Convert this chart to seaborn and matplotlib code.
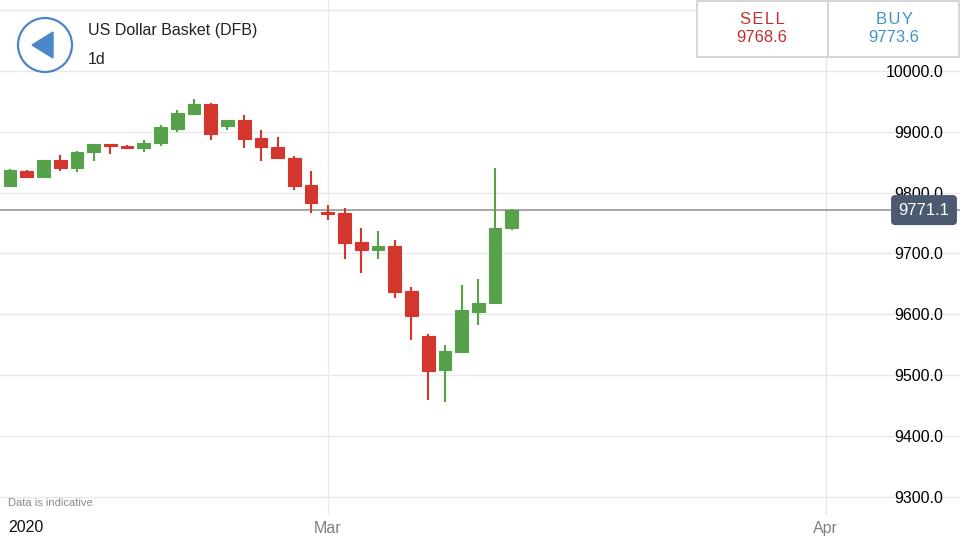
import matplotlib
matplotlib.use("Agg")
import matplotlib.pyplot as plt
import matplotlib.patches as mpatches
import matplotlib.transforms as mtransforms
import seaborn as sns
import numpy as np
import pandas as pd

# ── data (daily candles, US Dollar Basket) ───────────────────────
opens = [9811, 9835, 9826, 9853, 9841, 9866, 9880, 9877, 9874, 9881, 9905,
         9929, 9945, 9909, 9919, 9889, 9875, 9856, 9812, 9768, 9767, 9718,
         9706, 9712, 9638, 9564, 9508, 9538, 9604, 9618, 9741]
highs = [9838, 9837, 9854, 9861, 9868, 9879, 9880, 9878, 9886, 9911, 9935,
         9953, 9947, 9920, 9928, 9902, 9891, 9860, 9836, 9780, 9775, 9742,
         9737, 9722, 9644, 9567, 9549, 9648, 9657, 9840, 9773]
lows = [9809, 9824, 9825, 9835, 9834, 9851, 9863, 9872, 9867, 9877, 9900,
        9929, 9886, 9902, 9874, 9852, 9855, 9804, 9767, 9755, 9690, 9667,
        9691, 9627, 9557, 9459, 9456, 9537, 9582, 9618, 9738]
closes = [9837, 9825, 9853, 9841, 9867, 9879, 9877, 9874, 9882, 9907, 9930,
          9945, 9896, 9919, 9888, 9875, 9856, 9811, 9782, 9765, 9717, 9706,
          9712, 9637, 9597, 9507, 9539, 9606, 9619, 9742, 9771]

last_price = 9771.1
sell_price = "9768.6"
buy_price = "9773.6"
y_ticks = [9300, 9400, 9500, 9600, 9700, 9800, 9900, 10000, 10100]
month_pos = [19.0, 48.77]
month_labels = ["Mar", "Apr"]

GREEN = "#58a14b"
RED = "#d3362d"
SELL_RED = "#c0302e"
BUY_BLUE = "#3f94c6"

df = pd.DataFrame({"open": opens, "high": highs, "low": lows, "close": closes})
df["idx"] = np.arange(len(df))
df["up"] = df["close"] >= df["open"]
df["color"] = np.where(df["up"], GREEN, RED)
df["body_lo"] = df[["open", "close"]].min(axis=1)
df["body_h"] = (df["close"] - df["open"]).abs().clip(lower=2.5)

sns.set_theme(style="white")
plt.rcParams["font.family"] = ["Liberation Sans", "DejaVu Sans"]

fig = plt.figure(figsize=(9.6, 5.4), dpi=100)
ax = fig.add_axes([0, 25 / 540, 1, 515 / 540])

# grid
for v in y_ticks:
    ax.axhline(v, color="#e8e8e8", lw=1, zorder=0)
for m in month_pos:
    ax.axvline(m, color="#e8e8e8", lw=1, zorder=0)

# candles
ax.vlines(df["idx"], df["low"], df["high"], colors=df["color"], lw=1.5, zorder=2)
ax.bar(df["idx"], df["body_h"], bottom=df["body_lo"], width=0.76,
       color=df["color"], edgecolor=df["color"], lw=0.8, zorder=3)

# last price line + label
ax.axhline(last_price, color="#a6a6a6", lw=1.4, zorder=1)
trans = mtransforms.blended_transform_factory(ax.transAxes, ax.transData)
ax.text(0.989, last_price, f"{last_price:.1f}", transform=trans, ha="right",
        va="center", color="white", fontsize=12, zorder=6,
        bbox=dict(boxstyle="round,pad=0.45,rounding_size=0.25",
                  fc="#4b5a70", ec="none"))

ax.set_xlim(-0.6, 56.8)
ax.set_ylim(9269.6, 10116.6)
ax.set_yticks(y_ticks)
ax.set_yticklabels([f"{v:.1f}" if v < 10100 else "" for v in y_ticks])
ax.yaxis.tick_right()
ax.tick_params(axis="y", length=0, pad=-12, labelsize=11.5, labelcolor="#000000")
for lab in ax.get_yticklabels():
    lab.set_horizontalalignment("right")
ax.set_xticks(month_pos)
ax.set_xticklabels(month_labels)
ax.tick_params(axis="x", length=0, pad=4, labelsize=11.5, labelcolor="#808080")
for s in ax.spines.values():
    s.set_visible(False)
ax.grid(False)

# overlay (header, buttons) in pixel coordinates
ov = fig.add_axes([0, 0, 1, 1], facecolor="none")
ov.set_xlim(0, 960)
ov.set_ylim(540, 0)
ov.axis("off")

ov.add_patch(mpatches.Circle((45, 45), 27, fc="white", ec="#4a86c8", lw=1.6))
ov.add_patch(mpatches.Polygon([(32, 45), (53, 32), (53, 58)], closed=True,
                              fc="#4a86c8", ec="#4a86c8", lw=1))
ov.text(88, 31, "US Dollar Basket (DFB)", fontsize=11.5, color="#222222",
        va="center", ha="left")
ov.text(88, 59, "1d", fontsize=11.5, color="#222222", va="center", ha="left")

ov.add_patch(mpatches.Rectangle((697, 1), 262, 56, fc="white", ec="#cfcfcf", lw=1.2))
ov.plot([828, 828], [1, 57], color="#cfcfcf", lw=1.2)
ov.text(762, 20, "S\u200aE\u200aL\u200aL", fontsize=12, color=SELL_RED,
        ha="center", va="center")
ov.text(762, 37, sell_price, fontsize=12, color=SELL_RED, ha="center", va="center")
ov.text(894, 20, "B\u200aU\u200aY", fontsize=12, color=BUY_BLUE,
        ha="center", va="center")
ov.text(894, 37, buy_price, fontsize=12, color=BUY_BLUE, ha="center", va="center")

ov.text(8, 503, "Data is indicative", fontsize=8, color="#8a8a8a",
        ha="left", va="center")
ov.text(8, 527, "2020", fontsize=11.5, color="#111111", ha="left", va="center")

fig.savefig("out.png", dpi=100)
